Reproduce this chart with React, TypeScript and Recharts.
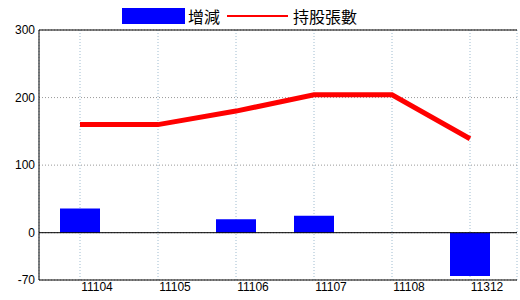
import { Bar, CartesianGrid, ComposedChart, Legend, Line, ReferenceLine, XAxis, YAxis } from "recharts";

const months = ["11104", "11105", "11106", "11107", "11108", "11312"];
const change = [36, 0, 20, 25, 0, -64];
const holdings = [160, 160, 180, 204, 204, 139];
const yTicks = [-70, 0, 100, 200, 300];

const data = months.map((name, i) => ({ name, change: change[i], holdings: holdings[i] }));

const font = "'Liberation Sans', 'Noto Sans CJK TC', sans-serif";

function ChartLegend() {
  return (
    <div style={{ display: "flex", alignItems: "center", fontFamily: "'Noto Sans CJK TC', sans-serif", fontSize: 16, color: "#000", height: 18 }}>
      <span style={{ display: "inline-block", width: 63, height: 16, background: "#0000ff", marginRight: 3 }} />
      <span style={{ lineHeight: "18px" }}>增減</span>
      <span style={{ display: "inline-block", width: 61, height: 2, background: "#ff0000", margin: "0 5px 0 7px" }} />
      <span style={{ lineHeight: "18px" }}>持股張數</span>
    </div>
  );
}

export default function App() {
  return (
    <div style={{ position: "absolute", left: 0, top: 0, background: "#fff" }}>
      <ComposedChart width={520} height={300} data={data} margin={{ top: 30, right: 3, left: 0, bottom: 0 }}>
        <CartesianGrid horizontal={false} stroke="#9fbcd0" strokeDasharray="1 2" />
        <CartesianGrid vertical={false} stroke="#999999" strokeDasharray="1 2" />
        <Legend
          layout="horizontal"
          verticalAlign="middle"
          align="center"
          content={() => <ChartLegend />}
          wrapperStyle={{ position: "absolute", top: 7, left: 122, width: "auto" }}
        />
        <XAxis
          dataKey="name"
          height={20}
          padding={{ left: 2, right: 8 }}
          tickLine={false}
          tickSize={0}
          tickMargin={2}
          axisLine={{ stroke: "#000" }}
          tick={{ fill: "#000", fontSize: 12, fontFamily: font, dx: 17 }}
          interval={0}
        />
        <XAxis xAxisId="top" orientation="top" dataKey="name" height={0} tick={false} tickLine={false} axisLine={{ stroke: "#000" }} />
        <YAxis
          domain={[-70, 300]}
          ticks={yTicks}
          width={39}
          tickLine={false}
          tickSize={0}
          tickMargin={4}
          axisLine={{ stroke: "#000" }}
          tick={{ fill: "#000", fontSize: 12, fontFamily: font }}
          interval={0}
        />
        <YAxis yAxisId="right" orientation="right" domain={[-70, 300]} width={0} tick={false} tickLine={false} axisLine={{ stroke: "#000" }} />
        <ReferenceLine y={0} stroke="#000" strokeWidth={1} />
        <ReferenceLine y={300} stroke="#000" strokeWidth={1} />
        <Bar dataKey="change" fill="#0000ff" barSize={40} isAnimationActive={false} />
        <Line type="linear" dataKey="holdings" stroke="#ff0000" strokeWidth={5} dot={false} activeDot={false} isAnimationActive={false} />
      </ComposedChart>
    </div>
  );
}
